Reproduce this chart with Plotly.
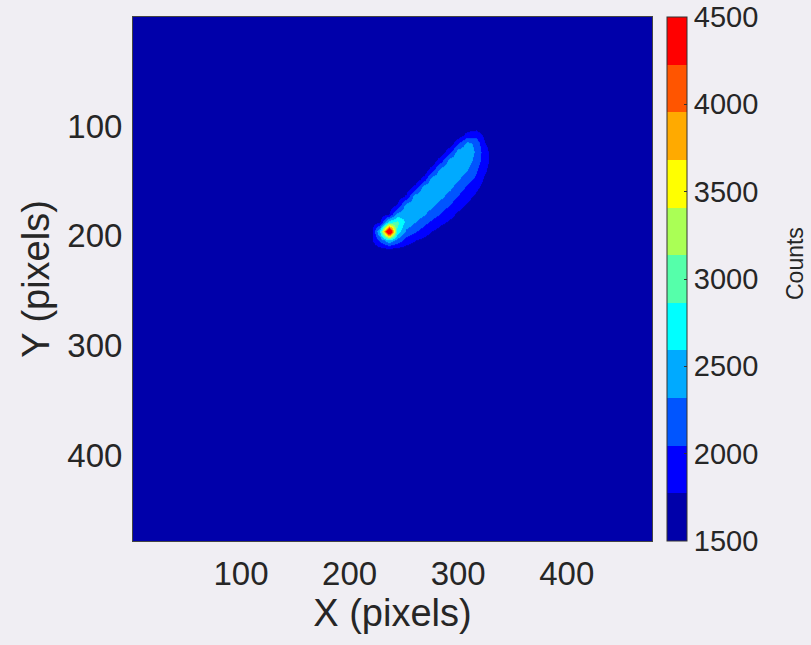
import plotly.graph_objects as go

# ---- data ----
# background level of the detector image (counts)
background_x = [1, 478]
background_y = [1, 478]
background_z = [[1600, 1600], [1600, 1600]]

# coarse grid (pixel positions) covering the bright streak
grid_x = [196, 204, 212, 220, 228, 236, 244, 252, 260, 268, 276, 284, 292, 300, 308, 316, 324, 332, 340]
grid_y = [84, 92, 100, 108, 116, 124, 132, 140, 148, 156, 164, 172, 180, 188, 196, 204, 212, 220, 228]

# counts at the grid nodes (rows follow grid_y, columns follow grid_x)
streak_z = [
    [1600, 1600, 1600, 1600, 1600, 1600, 1600, 1600, 1600, 1600, 1600, 1600, 1600, 1600, 1600, 1600, 1600, 1600, 1600],
    [1600, 1600, 1600, 1600, 1600, 1600, 1600, 1600, 1600, 1600, 1600, 1600, 1600, 1600, 1600, 1600, 1600, 1600, 1600],
    [1600, 1600, 1600, 1600, 1600, 1600, 1600, 1600, 1600, 1600, 1600, 1600, 1600, 1600, 1600, 1650, 1600, 1600, 1600],
    [1600, 1600, 1600, 1600, 1600, 1600, 1600, 1600, 1600, 1600, 1600, 1600, 1600, 1600, 1890, 1930, 1730, 1600, 1600],
    [1600, 1600, 1600, 1600, 1600, 1600, 1600, 1600, 1600, 1600, 1600, 1600, 1600, 2030, 2400, 2250, 1800, 1615, 1600],
    [1600, 1600, 1600, 1600, 1600, 1600, 1600, 1600, 1600, 1600, 1600, 1600, 2010, 2480, 2480, 2280, 1910, 1630, 1600],
    [1600, 1600, 1600, 1600, 1600, 1600, 1600, 1600, 1600, 1600, 1600, 1990, 2480, 2480, 2450, 2210, 1900, 1640, 1600],
    [1600, 1600, 1600, 1600, 1600, 1600, 1600, 1600, 1600, 1600, 1950, 2480, 2480, 2470, 2330, 2080, 1820, 1640, 1600],
    [1600, 1600, 1600, 1600, 1600, 1600, 1600, 1600, 1600, 1910, 2480, 2480, 2480, 2350, 2160, 1980, 1740, 1630, 1600],
    [1600, 1600, 1600, 1600, 1600, 1600, 1600, 1600, 1860, 2480, 2480, 2480, 2380, 2190, 2000, 1830, 1680, 1600, 1600],
    [1600, 1600, 1600, 1600, 1600, 1600, 1600, 1820, 2470, 2480, 2480, 2380, 2200, 2030, 1860, 1720, 1620, 1600, 1600],
    [1600, 1600, 1600, 1600, 1600, 1600, 1800, 2450, 2480, 2480, 2380, 2190, 2030, 1870, 1730, 1620, 1600, 1600, 1600],
    [1600, 1600, 1600, 1600, 1600, 1780, 2430, 2500, 2480, 2350, 2170, 2020, 1860, 1720, 1620, 1600, 1600, 1600, 1600],
    [1600, 1600, 1600, 1600, 1780, 2800, 2950, 2520, 2320, 2130, 1980, 1830, 1720, 1620, 1600, 1600, 1600, 1600, 1600],
    [1600, 1600, 1600, 1650, 2700, 5000, 2800, 2260, 2080, 1910, 1770, 1650, 1600, 1600, 1600, 1600, 1600, 1600, 1600],
    [1600, 1600, 1600, 1700, 2120, 2550, 2230, 1930, 1780, 1690, 1620, 1600, 1600, 1600, 1600, 1600, 1600, 1600, 1600],
    [1600, 1600, 1600, 1600, 1670, 1710, 1680, 1640, 1600, 1600, 1600, 1600, 1600, 1600, 1600, 1600, 1600, 1600, 1600],
    [1600, 1600, 1600, 1600, 1600, 1600, 1600, 1600, 1600, 1600, 1600, 1600, 1600, 1600, 1600, 1600, 1600, 1600, 1600],
    [1600, 1600, 1600, 1600, 1600, 1600, 1600, 1600, 1600, 1600, 1600, 1600, 1600, 1600, 1600, 1600, 1600, 1600, 1600],
]

axis_ticks = [100, 200, 300, 400]
cbar_ticks = [1500, 2000, 2500, 3000, 3500, 4000, 4500]
z_min, z_max = 1500, 4500

# MATLAB jet(11), discrete
jet11 = [(0, 0, 170), (0, 0, 255), (0, 85, 255), (0, 170, 255), (0, 255, 255),
         (85, 255, 170), (170, 255, 85), (255, 255, 0), (255, 170, 0), (255, 85, 0), (255, 0, 0)]
n = len(jet11)
colorscale = []
for i, c in enumerate(jet11):
    col = "rgb(%d,%d,%d)" % c
    colorscale.append([i / n, col])
    colorscale.append([(i + 1) / n, col])

FONT = "Liberation Sans, Arial, Helvetica, sans-serif"
TXT = "#262626"
PAPER = "#f0eef3"

# plot area in pixels
L, R, T, B = 133, 652, 17, 541
W, H = 811, 645

fig = go.Figure()
fig.add_trace(go.Heatmap(
    x=background_x, y=background_y, z=background_z,
    colorscale=colorscale, zmin=z_min, zmax=z_max, showscale=False,
    hoverinfo="skip",
))
fig.add_trace(go.Heatmap(
    x=grid_x, y=grid_y, z=streak_z,
    colorscale=colorscale, zmin=z_min, zmax=z_max, zsmooth="best",
    colorbar=dict(
        x=(667 - L) / (R - L), xanchor="left", xpad=0, ypad=0,
        y=0.5, yanchor="middle", len=1, lenmode="fraction",
        thickness=20, thicknessmode="pixels",
        outlinewidth=1, outlinecolor="#333333",
        tickvals=cbar_ticks, ticks="inside", ticklen=3, tickcolor="#333333",
        tickfont=dict(family=FONT, size=29, color=TXT),
    ),
))

fig.update_layout(
    width=W, height=H,
    margin=dict(l=L, r=W - R, t=T, b=H - B, autoexpand=False),
    paper_bgcolor=PAPER, plot_bgcolor="rgb(0,0,170)",
    font=dict(family=FONT, color=TXT),
    xaxis=dict(
        range=[0.5, 478.5], tickvals=axis_ticks, ticks="", showgrid=False, zeroline=False,
        showline=True, linecolor="#444444", linewidth=1, mirror=True,
        tickfont=dict(size=33, color=TXT), ticklabelstandoff=3,
        title=dict(text="X (pixels)", font=dict(size=38, color=TXT), standoff=5),
    ),
    yaxis=dict(
        range=[478.5, 0.5], tickvals=axis_ticks, ticks="", showgrid=False, zeroline=False,
        showline=True, linecolor="#444444", linewidth=1, mirror=True,
        tickfont=dict(size=33, color=TXT), ticklabelstandoff=3,
        title=dict(text="Y (pixels)", font=dict(size=38, color=TXT), standoff=6),
    ),
    annotations=[dict(
        text="Counts", textangle=-90, showarrow=False,
        xref="paper", yref="paper",
        x=(795 - L) / (R - L), y=(B - 264) / (B - T),
        xanchor="center", yanchor="middle",
        font=dict(family=FONT, size=23, color=TXT),
    )],
)

fig.write_html(
    "out.html",
    config={"displayModeBar": False},
    post_script="document.body.style.margin='0px';document.body.style.padding='0px';",
)
